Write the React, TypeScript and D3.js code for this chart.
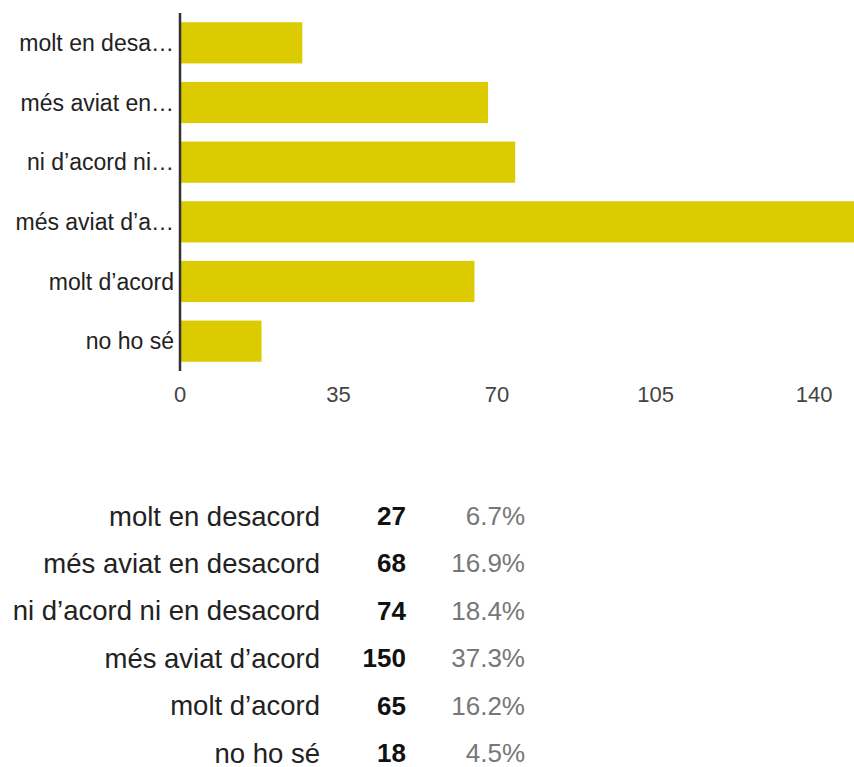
import React from "react";
import * as d3 from "d3";

const categories = [
  "molt en desacord",
  "més aviat en desacord",
  "ni d’acord ni en desacord",
  "més aviat d’acord",
  "molt d’acord",
  "no ho sé",
];
const shortLabels = [
  "molt en desa…",
  "més aviat en…",
  "ni d’acord ni…",
  "més aviat d’a…",
  "molt d’acord",
  "no ho sé",
];
const counts = [27, 68, 74, 150, 65, 18];
const tickValues = [0, 35, 70, 105, 140];

const W = 854;
const H = 767;
const FONT = "'Liberation Sans', Arial, sans-serif";

export default function App() {
  const x = d3.scaleLinear().domain([0, 175]).range([180, 180 + 175 * 4.53]);
  const y = d3
    .scaleBand<string>()
    .domain(categories)
    .range([13, 371])
    .paddingInner(0.31)
    .paddingOuter(0.155);
  const total = d3.sum(counts);
  const rowY = d3.scaleLinear().domain([0, 5]).range([516, 753]);

  return (
    <svg
      width={W}
      height={H}
      style={{ position: "absolute", left: 0, top: 0, display: "block", background: "#fff" }}
      fontFamily={FONT}
    >
      <defs>
        <clipPath id="plotclip">
          <rect x={0} y={0} width={W} height={H} />
        </clipPath>
      </defs>
      <g clipPath="url(#plotclip)">
        {categories.map((c, i) => (
          <rect
            key={c}
            x={x(0)}
            y={y(c)}
            width={x(counts[i]) - x(0)}
            height={y.bandwidth()}
            fill="#dccb00"
          />
        ))}
      </g>
      <line x1={x(0)} x2={x(0)} y1={13} y2={371} stroke="#333" strokeWidth={2.5} />
      {categories.map((c, i) => (
        <text
          key={c}
          x={174}
          y={(y(c) as number) + y.bandwidth() / 2}
          textAnchor="end"
          dominantBaseline="central"
          fontSize={23}
          fill="#222"
        >
          {shortLabels[i]}
        </text>
      ))}
      {tickValues.map((t) => (
        <text
          key={t}
          x={x(t)}
          y={394}
          textAnchor="middle"
          dominantBaseline="central"
          fontSize={22}
          fill="#444"
        >
          {t}
        </text>
      ))}
      {categories.map((c, i) => (
        <g key={c}>
          <text
            x={320}
            y={rowY(i)}
            textAnchor="end"
            dominantBaseline="central"
            fontSize={27.5}
            fill="#222"
          >
            {c}
          </text>
          <text
            x={406}
            y={rowY(i)}
            textAnchor="end"
            dominantBaseline="central"
            fontSize={26}
            fontWeight="bold"
            fill="#111"
          >
            {counts[i]}
          </text>
          <text
            x={525}
            y={rowY(i)}
            textAnchor="end"
            dominantBaseline="central"
            fontSize={26}
            fill="#777"
          >
            {d3.format(".1f")((counts[i] / total) * 100) + "%"}
          </text>
        </g>
      ))}
    </svg>
  );
}
